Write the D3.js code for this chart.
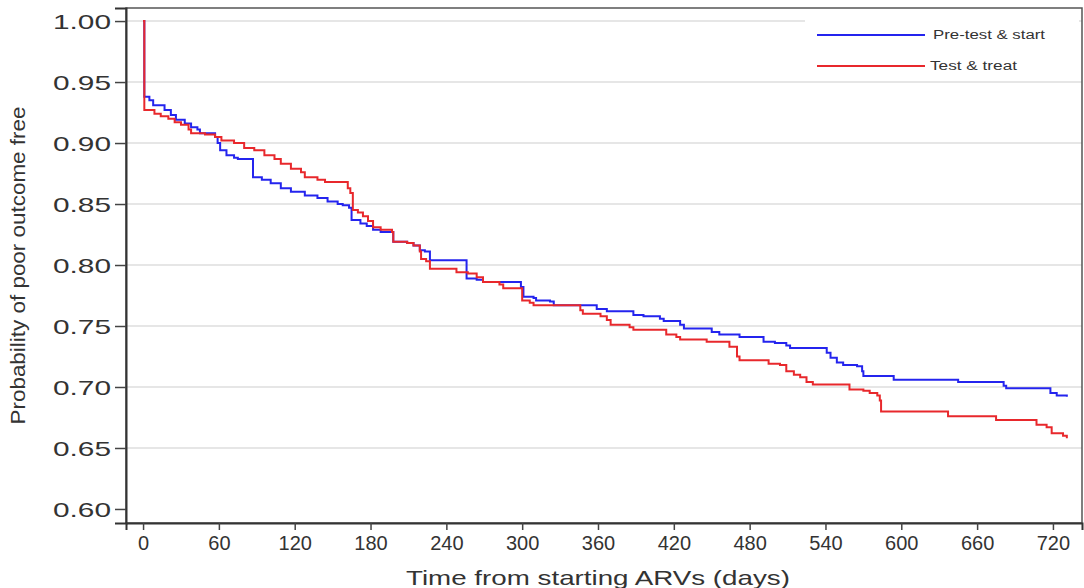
<!DOCTYPE html>
<html>
<head>
<meta charset="utf-8">
<script src="https://cdn.jsdelivr.net/npm/d3@7/dist/d3.min.js"></script>
<style>
  html, body { margin: 0; padding: 0; background: #fff; }
  svg { display: block; }
  text { font-family: "Liberation Sans", Arial, sans-serif; fill: #333; }
</style>
</head>
<body>
<svg id="chart" width="1084" height="588"></svg>
<script>
// ---- data ----
const seriesNames = ["Pre-test & start", "Test & treat"];
const seriesColors = ["#2424ee", "#e8282c"];

// Kaplan-Meier step curves: [day, probability]
const preTestStart = [
  [0,1.0],[1,0.938],[5,0.935],[8,0.931],[17,0.927],[22,0.923],[26,0.919],[33,0.916],[38,0.913],
  [43,0.911],[45,0.908],[57,0.905],[59,0.900],[61,0.894],[66,0.890],[72,0.888],[75,0.887],
  [87,0.872],[94,0.870],[101,0.867],[109,0.863],[117,0.860],[128,0.857],[138,0.855],[146,0.852],
  [154,0.850],[158,0.849],[163,0.847],[165,0.837],[172,0.834],[177,0.832],[182,0.829],[188,0.827],
  [198,0.819],[209,0.818],[214,0.816],[219,0.812],[223,0.811],[227,0.804],[256,0.789],[264,0.788],
  [269,0.786],[299,0.782],[301,0.774],[309,0.773],[311,0.771],[322,0.770],[325,0.767],[359,0.764],
  [367,0.762],[388,0.759],[396,0.758],[409,0.756],[412,0.754],[425,0.751],[428,0.748],[450,0.745],
  [456,0.743],[472,0.741],[491,0.737],[500,0.736],[509,0.734],[512,0.732],[541,0.728],[544,0.724],
  [549,0.720],[554,0.718],[565,0.717],[569,0.713],[570,0.709],[594,0.706],[645,0.704],[681,0.701],
  [683,0.699],[718,0.695],[723,0.693],[731,0.692]
];
const testAndTreat = [
  [0,1.0],[1,0.927],[9,0.924],[14,0.922],[20,0.920],[25,0.917],[30,0.915],[36,0.911],[38,0.908],
  [49,0.907],[57,0.905],[62,0.902],[72,0.900],[80,0.896],[88,0.894],[96,0.890],[104,0.887],
  [109,0.883],[117,0.879],[125,0.876],[128,0.872],[138,0.870],[144,0.868],[162,0.863],[164,0.859],
  [166,0.845],[170,0.843],[174,0.840],[178,0.836],[182,0.831],[188,0.829],[197,0.827],[198,0.819],
  [209,0.818],[214,0.816],[219,0.811],[220,0.805],[224,0.803],[227,0.797],[248,0.794],[257,0.793],
  [264,0.790],[269,0.786],[282,0.784],[285,0.781],[300,0.771],[306,0.769],[309,0.767],[346,0.763],
  [348,0.760],[362,0.758],[367,0.755],[370,0.751],[385,0.749],[388,0.747],[414,0.743],[422,0.741],
  [425,0.739],[446,0.737],[464,0.733],[470,0.725],[472,0.722],[495,0.719],[504,0.718],[509,0.713],
  [515,0.710],[520,0.708],[525,0.704],[530,0.702],[559,0.698],[570,0.697],[575,0.695],[581,0.693],
  [583,0.689],[584,0.680],[637,0.676],[675,0.673],[707,0.669],[715,0.667],[719,0.662],[728,0.660],
  [731,0.658]
];

const xTicks = [0,60,120,180,240,300,360,420,480,540,600,660,720];
const yTicks = [0.60,0.65,0.70,0.75,0.80,0.85,0.90,0.95,1.00];
const xTitle = "Time from starting ARVs (days)";
const yTitle = "Probability of poor outcome free";

// ---- layout ----
const svg = d3.select("#chart");
const plot = { left: 126, right: 1082, top: 8, bottom: 523 };

const x = d3.scaleLinear().domain([-13.5, 743]).range([plot.left, plot.right]);
const y = d3.scaleLinear().domain([0.5885, 1.0107]).range([plot.bottom, plot.top]);

// gridlines
svg.append("g")
  .selectAll("line")
  .data(yTicks.filter(d => d > 0.6))
  .join("line")
  .attr("x1", plot.left).attr("x2", plot.right)
  .attr("y1", d => y(d)).attr("y2", d => y(d))
  .attr("stroke", "#dedede").attr("stroke-width", 1.5);

// frame (top/right)
svg.append("rect")
  .attr("x", plot.left).attr("y", plot.top)
  .attr("width", plot.right - plot.left).attr("height", plot.bottom - plot.top)
  .attr("fill", "none").attr("stroke", "#555").attr("stroke-width", 1.5);

// legend background (covers gridlines)
const legend = svg.append("g");
legend.append("rect")
  .attr("x", 805).attr("y", 12).attr("width", 274).attr("height", 68)
  .attr("fill", "#fff");

// curves
const line = d3.line()
  .x(d => x(d[0]))
  .y(d => y(d[1]))
  .curve(d3.curveStepAfter);

[preTestStart, testAndTreat].forEach((s, i) => {
  svg.append("path")
    .datum(s)
    .attr("fill", "none")
    .attr("stroke", seriesColors[i])
    .attr("stroke-width", 2)
    .attr("d", line);
});

// axes
const yAxis = d3.axisLeft(y).tickValues(yTicks).tickSize(11).tickPadding(4)
  .tickFormat(d3.format(".2f"));
const gy = svg.append("g").attr("transform", `translate(${plot.left},0)`).call(yAxis);
gy.select(".domain").attr("stroke", "#333").attr("stroke-width", 2);
gy.selectAll(".tick line").attr("stroke", "#444").attr("stroke-width", 1.5);
gy.selectAll(".tick text")
  .attr("font-size", 21)
  .attr("fill", "#333")
  .attr("textLength", 58)
  .attr("lengthAdjust", "spacingAndGlyphs")
  .attr("dy", "0.36em");

const xAxis = d3.axisBottom(x).tickValues(xTicks).tickSize(7).tickPadding(6)
  .tickFormat(d3.format("d"));
const gx = svg.append("g").attr("transform", `translate(0,${plot.bottom})`).call(xAxis);
gx.select(".domain").attr("stroke", "#333").attr("stroke-width", 2);
gx.selectAll(".tick line").attr("stroke", "#444").attr("stroke-width", 1.5);
gx.selectAll(".tick text").attr("font-size", 20).attr("fill", "#333");

// axis titles
svg.append("text")
  .attr("x", (x(0) + x(720)) / 2).attr("y", 585)
  .attr("text-anchor", "middle")
  .attr("font-size", 21)
  .attr("textLength", 384).attr("lengthAdjust", "spacingAndGlyphs")
  .text(xTitle);

svg.append("text")
  .attr("transform", `translate(25,${(plot.top + plot.bottom) / 2}) rotate(-90)`)
  .attr("text-anchor", "middle")
  .attr("font-size", 20)
  .attr("textLength", 318).attr("lengthAdjust", "spacingAndGlyphs")
  .text(yTitle);

// legend items
const legendRows = [35, 66];
seriesNames.forEach((name, i) => {
  legend.append("line")
    .attr("x1", 817).attr("x2", 925)
    .attr("y1", legendRows[i]).attr("y2", legendRows[i])
    .attr("stroke", seriesColors[i]).attr("stroke-width", 2);
  legend.append("text")
    .attr("x", i === 0 ? 933 : 930).attr("y", legendRows[i])
    .attr("dy", "0.35em")
    .attr("font-size", 12.5)
    .attr("textLength", i === 0 ? 112 : 87)
    .attr("lengthAdjust", "spacingAndGlyphs")
    .text(name);
});
</script>
</body>
</html>
